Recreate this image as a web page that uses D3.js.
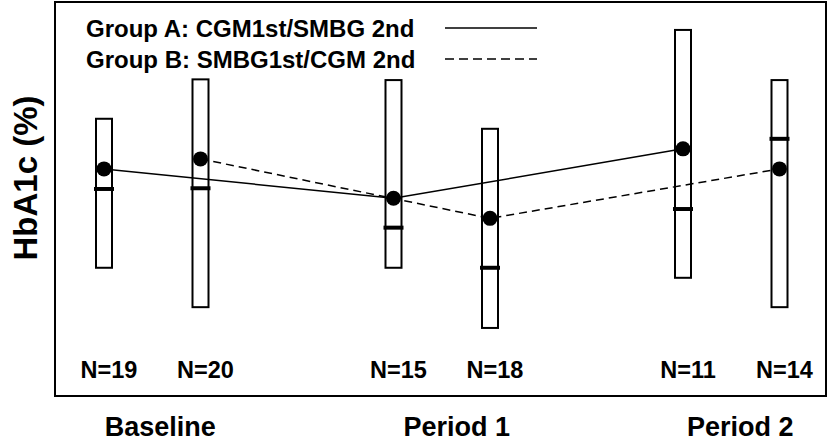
<!DOCTYPE html>
<html>
<head>
<meta charset="utf-8">
<script src="https://cdn.jsdelivr.net/npm/d3@7"></script>
<style>
  html, body { margin: 0; padding: 0; background: #fff; }
  text { font-family: "Liberation Sans", Arial, Helvetica, sans-serif; font-weight: bold; fill: #000; }
</style>
</head>
<body>
<svg id="chart" width="829" height="441"></svg>
<script>
// ---- data (HbA1c, %) ----
const positions = [0, 1, 3, 4, 6, 7];               // slot index of each bar
const groups    = ["A", "B", "A", "B", "A", "B"];
const barTop    = [9.37, 9.92, 9.91, 9.23, 10.61, 9.91];
const barBottom = [7.29, 6.74, 7.29, 6.45, 7.15, 6.74];
const means     = [8.67, 8.81, 8.26, 7.98, 8.95, 8.67];
const medians   = [8.39, 8.40, 7.85, 7.29, 8.11, 9.09];
const nLabels   = ["N=19", "N=20", "N=15", "N=18", "N=11", "N=14"];
const periods   = ["Baseline", "Period 1", "Period 2"];
const legendLabels = ["Group A: CGM1st/SMBG 2nd", "Group B: SMBG1st/CGM 2nd"];
const yTitle = "HbA1c (%)";

const svg = d3.select("#chart");
const box = {x0: 55, y0: 2, x1: 826, y1: 396};

const x = d3.scaleLinear().domain([0, 7]).range([104, 779.5]);
const y = d3.scaleLinear().domain([5.5, 11]).range([box.y1, box.y0]);

// frame
svg.append("rect")
  .attr("x", box.x0).attr("y", box.y0)
  .attr("width", box.x1 - box.x0).attr("height", box.y1 - box.y0)
  .attr("fill", "none").attr("stroke", "#000").attr("stroke-width", 2);

const data = positions.map((p, i) => ({
  p, g: groups[i], top: barTop[i], bot: barBottom[i], mean: means[i], med: medians[i], n: nLabels[i]
}));

// bars
const bw = 16;
svg.append("g").selectAll("rect").data(data).join("rect")
  .attr("x", d => x(d.p) - bw / 2)
  .attr("y", d => y(d.top))
  .attr("width", bw)
  .attr("height", d => y(d.bot) - y(d.top))
  .attr("fill", "#fff").attr("stroke", "#000").attr("stroke-width", 2);

// medians
svg.append("g").selectAll("line").data(data).join("line")
  .attr("x1", d => x(d.p) - 10).attr("x2", d => x(d.p) + 10)
  .attr("y1", d => y(d.med)).attr("y2", d => y(d.med))
  .attr("stroke", "#000").attr("stroke-width", 4);

// connecting lines
const line = d3.line().x(d => x(d.p)).y(d => y(d.mean));
svg.append("path").datum(data.filter(d => d.g === "A"))
  .attr("d", line).attr("fill", "none").attr("stroke", "#000").attr("stroke-width", 1.5);
svg.append("path").datum(data.filter(d => d.g === "B"))
  .attr("d", line).attr("fill", "none").attr("stroke", "#000").attr("stroke-width", 1.5)
  .attr("stroke-dasharray", "8,5");

// mean dots
svg.append("g").selectAll("circle").data(data).join("circle")
  .attr("cx", d => x(d.p)).attr("cy", d => y(d.mean)).attr("r", 7.5).attr("fill", "#000");

// N labels
svg.append("g").selectAll("text").data(data).join("text")
  .attr("x", d => x(d.p) + 5).attr("y", 378)
  .attr("text-anchor", "middle").attr("font-size", 23.5)
  .text(d => d.n);

// period labels
const periodOffsets = [8, 15, 9];
svg.append("g").selectAll("text").data(periods).join("text")
  .attr("x", (d, i) => (x(positions[2 * i]) + x(positions[2 * i + 1])) / 2 + periodOffsets[i])
  .attr("y", 436)
  .attr("text-anchor", "middle").attr("font-size", 27)
  .text(d => d);

// legend
const lg = svg.append("g");
legendLabels.forEach((lab, i) => {
  const yy = 37 + i * 31;
  lg.append("text").attr("x", 86).attr("y", yy).attr("font-size", 24).text(lab);
  lg.append("line")
    .attr("x1", 445).attr("x2", 537)
    .attr("y1", yy - 9).attr("y2", yy - 9)
    .attr("stroke", "#000").attr("stroke-width", 1.5)
    .attr("stroke-dasharray", i === 0 ? null : "9,5");
});

// y title
svg.append("text")
  .attr("transform", "translate(37,178) rotate(-90)")
  .attr("text-anchor", "middle").attr("font-size", 33)
  .text(yTitle);
</script>
</body>
</html>
